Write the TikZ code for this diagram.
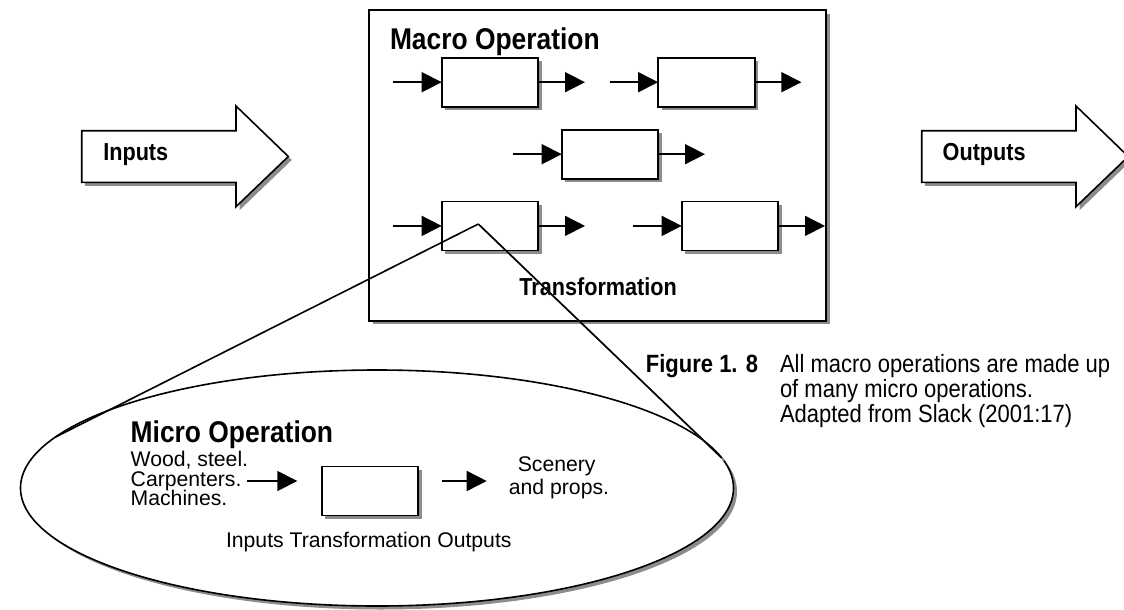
\documentclass[tikz,border=0pt]{standalone}
\usepackage{fontspec}
\setmainfont{Liberation Sans}
\newfontfamily\narrowfont{Liberation Sans}[FakeStretch=0.88]
\usetikzlibrary{arrows.meta,positioning,shapes.geometric,shadows}

\begin{document}
\begin{tikzpicture}[
x=1pt,
y=-1pt,
every node/.style={inner sep=0pt,outer sep=0pt},
boxshadow/.style={drop shadow={shadow xshift=3.5pt,shadow yshift=-3.5pt,fill=black!45,opacity=1}},
macrobox/.style={rectangle,draw,line width=1.8pt,fill=white,boxshadow,minimum width=456.7pt,minimum height=310.7pt},
opbox/.style={rectangle,draw,line width=1.8pt,fill=white,boxshadow,minimum width=96.6pt,minimum height=49pt},
oval/.style={ellipse,draw,line width=1.6pt,fill=white,boxshadow,minimum width=713pt,minimum height=236pt},
bigarrow/.style={draw,line width=1.6pt,fill=white,boxshadow},
flow/.style={-{Triangle[length=20pt,width=20pt]},line width=1.6pt},
callout/.style={line width=1.6pt},
headtext/.style={font=\narrowfont\bfseries\fontsize{30}{32}\selectfont,anchor=base west},
tagtext/.style={font=\narrowfont\bfseries\fontsize{24.6}{26}\selectfont,anchor=base west},
plain/.style={font=\fontsize{21.2}{23}\selectfont,anchor=base west},
capt/.style={font=\narrowfont\fontsize{25}{27}\selectfont,anchor=base west},
captbf/.style={font=\narrowfont\bfseries\fontsize{25}{27}\selectfont,anchor=base east}
]
\useasboundingbox (0,0) rectangle (1124,610);

% big input / output arrows
\foreach \dx in {0,840}
  \draw[bigarrow,xshift=\dx pt] (81.7,130.7) -- (236,130.7) -- (236,106) -- (288.3,156.5)
    -- (236,206.7) -- (236,182.3) -- (81.7,182.3) -- cycle;
\node[tagtext] (inputs) at (103.3,160) {Inputs};
\node[tagtext] (outputs) at (942.7,160) {Outputs};

% macro operation
\node[macrobox] (macro) at (597.7,165.4) {};
\node[headtext] (macrotitle) at (390,50) {Macro Operation};
\node[opbox] (op1) at (490,82.2) {};
\node[opbox] (op2) at (706.4,82.2) {};
\node[opbox] (op3) at (610,154.2) {};
\node[opbox] (op4) at (490,225.9) {};
\node[opbox] (op5) at (730,225.9) {};
\node[tagtext] (transf) at (519.3,295) {Transformation};

\foreach \b in {op1,op2,op3,op4,op5}{
  \coordinate (\b-in) at ([xshift=-48.4pt]\b.west);
  \coordinate (\b-out) at ([xshift=46.7pt]\b.east);
  \draw[flow] (\b-in) -- (\b.west);
  \draw[flow] (\b.east) -- (\b-out);
}

% micro operation
\node[oval] (micro) at (377,488) {};
\node[headtext] (microtitle) at (130.7,442) {Micro Operation};
\node[plain] (wood) at (130.7,466) {Wood, steel.};
\node[plain] (carp) at (130.7,486) {Carpenters.};
\node[plain] (mach) at (130.7,505.5) {Machines.};
\node[opbox] (microop) at (370,491) {};
\coordinate (mi0) at (247,481);
\coordinate (mi1) at (297.3,481);
\coordinate (mo0) at (441.7,481);
\coordinate (mo1) at (486.7,481);
\draw[flow] (mi0) -- (mi1);
\draw[flow] (mo0) -- (mo1);
\node[plain,anchor=base] (scenery) at (556.7,471) {Scenery};
\node[plain,anchor=base] (props) at (559,494) {and props.};
\node[plain] (ito) at (226,547) {Inputs Transformation Outputs};

% callout
\coordinate (tip) at (478.3,224);
\draw[callout] (micro.171) -- (tip);
\draw[callout,black!45] ([shift={(2.5pt,-2.5pt)}]tip) -- ([shift={(2.5pt,-2.5pt)}]micro.5);
\draw[callout] (tip) -- (micro.5);

% caption
\node[captbf] (fig) at (758,372) {Figure 1. 8};
\node[capt] (cap1) at (780,372) {All macro operations are made up};
\node[capt] (cap2) at (780,397) {of many micro operations.};
\node[capt] (cap3) at (780,422) {Adapted from Slack (2001:17)};
\end{tikzpicture}
\end{document}
